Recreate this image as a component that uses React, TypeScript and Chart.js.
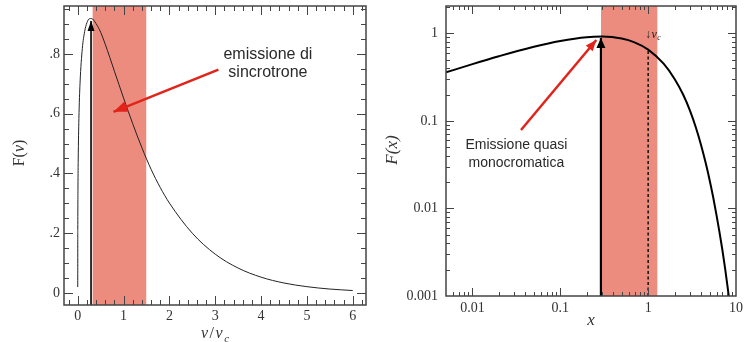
import React, { useEffect, useRef } from "react";
import { Chart, registerables } from "chart.js";
Chart.register(...registerables);

// ---------------- LEFT PANEL (linear) ----------------
const leftX = [0, 0.0001, 0.001, 0.005, 0.01, 0.025, 0.05, 0.1, 0.15, 0.2, 0.25, 0.3, 0.4, 0.5, 0.6, 0.7, 0.8, 0.9, 1.0, 1.2, 1.4, 1.6, 1.8, 2.0, 2.5, 3.0, 3.5, 4.0, 4.5, 5.0, 5.5, 6.0];
const leftF = [0.02, 0.0996, 0.213, 0.358, 0.445, 0.583, 0.702, 0.818, 0.874, 0.904, 0.917, 0.918, 0.901, 0.872, 0.832, 0.788, 0.742, 0.697, 0.652, 0.566, 0.486, 0.414, 0.353, 0.301, 0.2, 0.13, 0.0835, 0.0531, 0.0336, 0.0213, 0.0134, 0.0084];
const leftXTicks = [0, 1, 2, 3, 4, 5, 6];
const leftXTickLabels = ["0", "1", "2", "3", "4", "5", "6"];
const leftYTicks = [0, 0.2, 0.4, 0.6, 0.8];
const leftYTickLabels = ["0", ".2", ".4", ".6", ".8"];
const leftXRange = [-0.3, 6.29];
const leftYRange = [-0.04, 0.96];
const leftBand = [0.32, 1.5];
const leftPeakArrowX = [0.29, 0.29];
const leftPeakArrowY = [-0.04, 0.91];
const leftRedArrowX = [3.07, 0.78];
const leftRedArrowY = [0.747, 0.606];
const leftLabelLines = ["emissione di", "sincrotrone"];
const leftLabelX = 4.15;
const leftLabelY = [0.798, 0.737];

// ---------------- RIGHT PANEL (log-log) ----------------
const rightX = [0.005, 0.01, 0.02, 0.05, 0.1, 0.2, 0.3, 0.5, 0.7, 1, 1.5, 2, 2.5, 3, 3.5, 4, 4.5, 5, 5.5, 6, 6.5, 7, 7.5, 8, 8.5];
const rightF = [0.358, 0.445, 0.547, 0.702, 0.818, 0.904, 0.918, 0.872, 0.788, 0.652, 0.45, 0.301, 0.2, 0.13, 0.0835, 0.0531, 0.0336, 0.0213, 0.0134, 0.0084, 0.0053, 0.00335, 0.0021, 0.0013, 0.0008];
const rightXTicks = [0.01, 0.1, 1, 10];
const rightXTickLabels = ["0.01", "0.1", "1", "10"];
const rightYTicks = [0.001, 0.01, 0.1, 1];
const rightYTickLabels = ["0.001", "0.01", "0.1", "1"];
const rightXRange = [0.005, 10];
const rightYRange = [0.001, 2.05];
const rightBand = [0.29, 1.28];
const rightPeakArrowX = [0.29, 0.29];
const rightPeakArrowY = [0.001, 0.883];
const rightDashX = [1, 1];
const rightDashY = [0.001, 0.65];
const rightRedArrowX = [0.0357, 0.257];
const rightRedArrowY = [0.0787, 0.84];
const rightLabelLines = ["Emissione quasi", "monocromatica"];
const rightLabelX = 0.0316;
const rightLabelY = [0.053, 0.033];
const rightNuCX = 0.92;
const rightNuCY = 0.97;

// ---------------- styling ----------------
const BAND = "#EC8C7F";
const RED = "#E2231A";
const SERIF = "'Liberation Serif', 'DejaVu Serif', serif";
const SANS = "'Liberation Sans', Arial, sans-serif";
const INK = "#333";

const range = (a: number, b: number, s: number, skipEvery = 0) => {
  const out: number[] = [];
  const n = Math.round((b - a) / s);
  for (let i = 0; i <= n; i++) {
    const v = +(a + i * s).toFixed(6);
    if (skipEvery && Math.abs(v / skipEvery - Math.round(v / skipEvery)) < 1e-6) continue;
    out.push(v);
  }
  return out;
};
const logMinors = (e0: number, e1: number) => {
  const out: number[] = [];
  for (let e = e0; e <= e1; e++) for (let m = 2; m <= 9; m++) out.push(+(m * Math.pow(10, e)).toPrecision(3));
  return out;
};

type Run = { t: string; it?: boolean; sub?: boolean };
function drawRich(ctx: CanvasRenderingContext2D, runs: Run[], x: number, y: number, size: number, family: string, color: string, align = "center", rot = 0, gap = 0) {
  ctx.save();
  ctx.translate(x, y);
  ctx.rotate(rot);
  ctx.fillStyle = color;
  ctx.textBaseline = "middle";
  ctx.textAlign = "left";
  const fontOf = (r: Run) => `${r.it ? "italic " : ""}${r.sub ? Math.round(size * 0.68) : size}px ${family}`;
  const widths = runs.map((r) => { ctx.font = fontOf(r); return ctx.measureText(r.t).width; });
  const total = widths.reduce((a, b) => a + b, 0) + gap * (runs.length - 1);
  let cx = align === "center" ? -total / 2 : 0;
  runs.forEach((r, i) => {
    ctx.font = fontOf(r);
    ctx.fillText(r.t, cx, r.sub ? size * 0.3 : 0);
    cx += widths[i] + gap;
  });
  ctx.restore();
}

const boxPlugin = {
  id: "boxTicks",
  afterDatasetsDraw(chart: any, _a: any, opts: any) {
    const { ctx, chartArea: a, scales } = chart;
    const xs = scales.x, ys = scales.y;
    ctx.save();
    ctx.strokeStyle = opts.color;
    ctx.lineWidth = 1;
    const seg = (x1: number, y1: number, x2: number, y2: number) => { ctx.beginPath(); ctx.moveTo(x1, y1); ctx.lineTo(x2, y2); ctx.stroke(); };
    const doX = (vals: number[], len: number) => vals.forEach((v) => {
      const p = Math.round(xs.getPixelForValue(v)) + 0.5;
      if (p <= a.left + 1 || p >= a.right - 1) return;
      seg(p, a.bottom, p, a.bottom - len);
      seg(p, a.top, p, a.top + len);
    });
    const doY = (vals: number[], len: number) => vals.forEach((v) => {
      const p = Math.round(ys.getPixelForValue(v)) + 0.5;
      if (p <= a.top + 1 || p >= a.bottom - 1) return;
      seg(a.left, p, a.left + len, p);
      seg(a.right, p, a.right - len, p);
    });
    doX(opts.xMajor, opts.majorLen); doX(opts.xMinor, opts.minorLen);
    doY(opts.yMajor, opts.majorLen); doY(opts.yMinor, opts.minorLen);
    ctx.lineWidth = opts.frameWidth;
    ctx.strokeRect(a.left, a.top, a.right - a.left, a.bottom - a.top);
    ctx.restore();
  },
};

const arrowPlugin = {
  id: "arrowHeads",
  afterDatasetsDraw(chart: any) {
    const ctx = chart.ctx;
    chart.data.datasets.forEach((ds: any, i: number) => {
      if (!ds.arrowHead) return;
      const pts = chart.getDatasetMeta(i).data;
      const p0 = pts[pts.length - 2], p1 = pts[pts.length - 1];
      const ang = Math.atan2(p1.y - p0.y, p1.x - p0.x);
      const { length, width } = ds.arrowHead;
      ctx.save();
      ctx.translate(p1.x, p1.y);
      ctx.rotate(ang);
      ctx.beginPath();
      ctx.moveTo(0, 0);
      ctx.lineTo(-length, width / 2);
      ctx.lineTo(-length, -width / 2);
      ctx.closePath();
      ctx.fillStyle = ds.borderColor;
      ctx.fill();
      ctx.restore();
    });
  },
};

const textPlugin = {
  id: "richText",
  afterDraw(chart: any, _a: any, opts: any) {
    const { ctx, scales, chartArea } = chart;
    (opts.items || []).forEach((it: any) => {
      let x = it.x, y = it.y;
      if (it.data) { x = scales.x.getPixelForValue(it.x); y = scales.y.getPixelForValue(it.y); }
      if (it.x === "mid") x = (chartArea.left + chartArea.right) / 2;
      if (it.y === "mid") y = (chartArea.top + chartArea.bottom) / 2 + (it.dy || 0);
      drawRich(ctx, it.runs, x, y, it.size, it.family, it.color || INK, it.align || "center", it.rot || 0, it.gap || 0);
    });
  },
};

const xy = (xa: number[], ya: number[]) => xa.map((x, i) => ({ x, y: ya[i] }));

function makeConfig(p: any): any {
  return {
    type: "line",
    data: {
      datasets: [
        { data: xy(p.band, [p.yRange[1], p.yRange[1]]), fill: "start", backgroundColor: BAND, borderWidth: 0, pointRadius: 0, order: 10 },
        { data: xy(p.cx, p.cy), borderColor: p.curveColor, borderWidth: p.curveWidth, pointRadius: 0, fill: false, cubicInterpolationMode: "monotone", order: 5 },
        ...(p.extra || []),
        { data: xy(p.peakX, p.peakY), borderColor: "#000", borderWidth: p.peakWidth, pointRadius: 0, fill: false, order: 2, arrowHead: p.peakHead },
        { data: xy(p.redX, p.redY), borderColor: RED, borderWidth: 2.5, pointRadius: 0, fill: false, order: 1, arrowHead: p.redHead },
      ],
    },
    options: {
      animation: false,
      responsive: true,
      maintainAspectRatio: false,
      layout: { padding: { left: 0, right: p.padRight, top: 6, bottom: 0 } },
      plugins: {
        legend: { display: false },
        tooltip: { enabled: false },
        boxTicks: p.box,
        richText: { items: p.texts },
      },
      scales: {
        x: {
          type: p.xType, min: p.xRange[0], max: p.xRange[1],
          grid: { display: false, drawTicks: false }, border: { display: false },
          afterBuildTicks: (s: any) => { s.ticks = p.xTicks.map((v: number) => ({ value: v })); },
          afterFit: (s: any) => { s.height = p.xAxisH; s.paddingLeft = 0; s.paddingRight = 0; },
          ticks: { autoSkip: false, maxRotation: 0, padding: p.xPad, color: INK, font: { family: SERIF, size: 14 }, callback: (_v: any, i: number) => p.xLabels[i] },
        },
        y: {
          type: p.yType, min: p.yRange[0], max: p.yRange[1],
          grid: { display: false, drawTicks: false }, border: { display: false },
          afterBuildTicks: (s: any) => { s.ticks = p.yTicks.map((v: number) => ({ value: v })); },
          afterFit: (s: any) => { s.width = p.yAxisW; s.paddingTop = 0; s.paddingBottom = 0; },
          ticks: { autoSkip: false, padding: p.yPad, color: INK, font: { family: SERIF, size: 14 }, callback: (_v: any, i: number) => p.yLabels[i] },
        },
      },
    },
    plugins: [boxPlugin, arrowPlugin, textPlugin],
  };
}

const leftPanel = {
  xType: "linear", yType: "linear",
  xRange: leftXRange, yRange: leftYRange,
  xTicks: leftXTicks, xLabels: leftXTickLabels, yTicks: leftYTicks, yLabels: leftYTickLabels,
  band: leftBand, cx: leftX, cy: leftF, curveColor: "#222", curveWidth: 1,
  peakX: leftPeakArrowX, peakY: leftPeakArrowY, peakWidth: 1.6, peakHead: { length: 10, width: 7 },
  redX: leftRedArrowX, redY: leftRedArrowY, redHead: { length: 14, width: 11 },
  padRight: 10, xAxisH: 37, yAxisW: 64, xPad: 3, yPad: 4,
  box: {
    color: "#444", frameWidth: 1.5, majorLen: 9, minorLen: 5,
    xMajor: leftXTicks, xMinor: range(-0.2, 6.2, 0.2, 1),
    yMajor: leftYTicks, yMinor: range(0.05, 0.95, 0.05, 0.2),
  },
  texts: [
    { data: true, x: leftLabelX, y: leftLabelY[0], runs: [{ t: leftLabelLines[0] }], size: 16, family: SANS, color: "#2a2a2a" },
    { data: true, x: leftLabelX, y: leftLabelY[1], runs: [{ t: leftLabelLines[1] }], size: 16, family: SANS, color: "#2a2a2a" },
    { x: 20, y: 153, runs: [{ t: "F(" }, { t: "ν", it: true }, { t: ")" }], size: 16, family: SERIF, rot: -Math.PI / 2 },
    { x: "mid", y: 334, runs: [{ t: "ν", it: true }, { t: "/" }, { t: "ν", it: true }, { t: "c", it: true, sub: true }], size: 16, family: SERIF, gap: 1.5 },
  ],
};

const rightPanel = {
  xType: "logarithmic", yType: "logarithmic",
  xRange: rightXRange, yRange: rightYRange,
  xTicks: rightXTicks, xLabels: rightXTickLabels, yTicks: rightYTicks, yLabels: rightYTickLabels,
  band: rightBand, cx: rightX, cy: rightF, curveColor: "#000", curveWidth: 2,
  peakX: rightPeakArrowX, peakY: rightPeakArrowY, peakWidth: 2.2, peakHead: { length: 10, width: 9 },
  redX: rightRedArrowX, redY: rightRedArrowY, redHead: { length: 11, width: 9 },
  extra: [
    { data: xy(rightDashX, rightDashY), borderColor: "#111", borderWidth: 1.5, borderDash: [3, 2.5], pointRadius: 0, fill: false, order: 3 },
  ],
  padRight: 16, xAxisH: 46, yAxisW: 70, xPad: 4, yPad: 8,
  box: {
    color: "#444", frameWidth: 1.5, majorLen: 8, minorLen: 4,
    xMajor: rightXTicks, xMinor: logMinors(-3, 0),
    yMajor: rightYTicks, yMinor: logMinors(-3, 0),
  },
  texts: [
    { data: true, x: rightLabelX, y: rightLabelY[0], runs: [{ t: rightLabelLines[0] }], size: 14, family: SANS, color: "#2a2a2a" },
    { data: true, x: rightLabelX, y: rightLabelY[1], runs: [{ t: rightLabelLines[1] }], size: 14, family: SANS, color: "#2a2a2a" },
    { data: true, x: rightNuCX, y: rightNuCY, runs: [{ t: "↓" }, { t: "ν", it: true }, { t: "c", it: true, sub: true }], size: 12, family: SERIF, align: "left", color: "#222", gap: 0.5 },
    { x: 17, y: "mid", dy: -1, runs: [{ t: "F(x)", it: true }], size: 17, family: SERIF, rot: -Math.PI / 2 },
    { x: "mid", y: 321, runs: [{ t: "x", it: true }], size: 17, family: SERIF },
  ],
};

export default function App() {
  const leftRef = useRef<HTMLCanvasElement>(null);
  const rightRef = useRef<HTMLCanvasElement>(null);
  useEffect(() => {
    const c1 = new Chart(leftRef.current as HTMLCanvasElement, makeConfig(leftPanel));
    const c2 = new Chart(rightRef.current as HTMLCanvasElement, makeConfig(rightPanel));
    return () => { c1.destroy(); c2.destroy(); };
  }, []);
  return (
    <div style={{ position: "absolute", left: 0, top: 0, width: 752, height: 342, background: "#fff", display: "flex" }}>
      <div style={{ position: "relative", width: 376, height: 342 }}><canvas ref={leftRef} /></div>
      <div style={{ position: "relative", width: 376, height: 342 }}><canvas ref={rightRef} /></div>
    </div>
  );
}
